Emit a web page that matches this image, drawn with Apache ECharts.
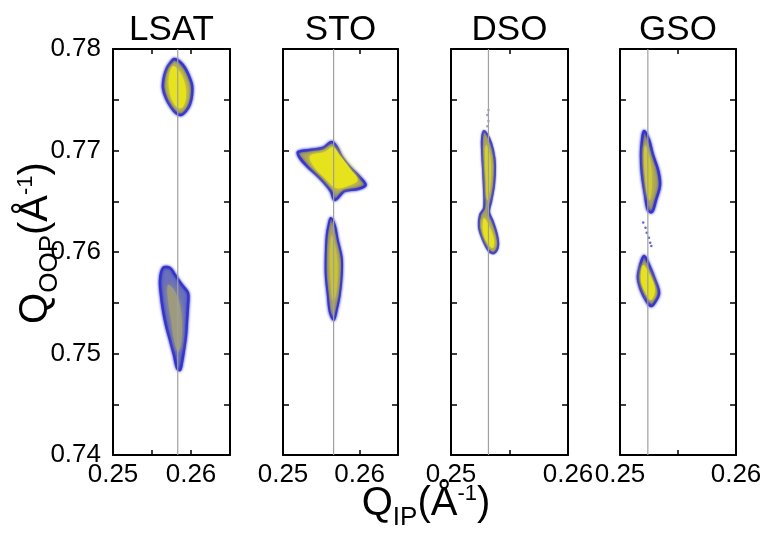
<!DOCTYPE html>
<html>
<head>
<meta charset="utf-8">
<script src="https://cdn.jsdelivr.net/npm/echarts@6/dist/echarts.min.js"></script>
<style>
  html, body { margin: 0; padding: 0; background: #fff; }
  #chart { width: 766px; height: 534px; }
</style>
</head>
<body>
<div id="chart"></div>
<script>
// Substrates, one panel each
const panelNames = ['LSAT', 'STO', 'DSO', 'GSO'];
// In-plane (Q_IP) axis ranges and tick steps
const qipMin = [0.25, 0.25, 0.25, 0.25];
const qipMax = [0.265, 0.265, 0.26, 0.26];
const qipTickStep = [0.005, 0.01, 0.005, 0.005];
const qipLabelValues = [0.25, 0.26];
// Out-of-plane (Q_OOP) axis
const qoopMin = 0.74;
const qoopMax = 0.78;
const qoopTickStep = 0.005;
const qoopLabelValues = [0.74, 0.75, 0.76, 0.77, 0.78];
// Substrate in-plane position (grey reference line)
const substrateQip = [0.2583, 0.2566, 0.2532, 0.2524];

// Intensity contour outlines, [Q_IP, Q_OOP]
const lsatUpperOuter = [[0.25782,0.77901],[0.25859,0.77872],[0.25923,0.77813],[0.25974,0.77734],[0.26013,0.77645],[0.26013,0.77547],[0.25987,0.77458],[0.25936,0.77389],[0.25872,0.77350],[0.25808,0.77369],[0.25744,0.77429],[0.25679,0.77517],[0.25641,0.77616],[0.25654,0.77724],[0.25692,0.77813],[0.25744,0.77872]];
const lsatUpperCore = [[0.25769,0.77833],[0.25859,0.77773],[0.25923,0.77655],[0.25936,0.77527],[0.25897,0.77429],[0.25833,0.77419],[0.25756,0.77498],[0.25718,0.77616],[0.25718,0.77734]];
const lsatLowerOuter = [[0.25641,0.75842],[0.25731,0.75842],[0.25795,0.75773],[0.25885,0.75675],[0.25962,0.75596],[0.25962,0.75478],[0.25949,0.75330],[0.25936,0.75182],[0.25910,0.75034],[0.25885,0.74916],[0.25859,0.74837],[0.25821,0.74857],[0.25782,0.74985],[0.25731,0.75133],[0.25679,0.75281],[0.25641,0.75429],[0.25615,0.75576],[0.25603,0.75724]];
const lsatLowerCore = [[0.25705,0.75675],[0.25782,0.75626],[0.25859,0.75478],[0.25885,0.75281],[0.25872,0.75084],[0.25833,0.75015],[0.25782,0.75133],[0.25744,0.75330],[0.25705,0.75527]];

const stoUpperOuter = [[0.25195,0.76985],[0.25351,0.77005],[0.25519,0.77025],[0.25636,0.77084],[0.25701,0.77034],[0.25766,0.76936],[0.25870,0.76837],[0.26000,0.76739],[0.26078,0.76660],[0.25974,0.76621],[0.25805,0.76601],[0.25675,0.76512],[0.25623,0.76601],[0.25480,0.76729],[0.25312,0.76847],[0.25221,0.76926]];
const stoUpperCore = [[0.25351,0.76946],[0.25545,0.76985],[0.25649,0.77034],[0.25740,0.76956],[0.25870,0.76828],[0.25974,0.76709],[0.25844,0.76650],[0.25688,0.76630],[0.25545,0.76729],[0.25416,0.76828]];
const stoLowerOuter = [[0.25623,0.76335],[0.25675,0.76266],[0.25714,0.76118],[0.25766,0.75941],[0.25766,0.75773],[0.25740,0.75576],[0.25701,0.75429],[0.25662,0.75330],[0.25610,0.75409],[0.25584,0.75576],[0.25558,0.75773],[0.25558,0.75970],[0.25571,0.76167],[0.25597,0.76276]];
const stoLowerCore = [[0.25636,0.76167],[0.25688,0.76020],[0.25714,0.75823],[0.25688,0.75576],[0.25649,0.75527],[0.25623,0.75724],[0.25610,0.75941],[0.25623,0.76118]];

const dsoOuter = [[0.25282,0.77192],[0.25325,0.77123],[0.25359,0.77005],[0.25376,0.76857],[0.25368,0.76660],[0.25342,0.76493],[0.25325,0.76394],[0.25359,0.76296],[0.25393,0.76167],[0.25402,0.76059],[0.25368,0.75990],[0.25325,0.76010],[0.25274,0.76118],[0.25239,0.76246],[0.25248,0.76365],[0.25282,0.76433],[0.25282,0.76611],[0.25274,0.76808],[0.25265,0.77005],[0.25265,0.77123]];
const dsoUpperCore = [[0.25299,0.77054],[0.25333,0.76956],[0.25342,0.76759],[0.25325,0.76562],[0.25308,0.76512],[0.25299,0.76709],[0.25291,0.76906]];
const dsoLowerCore = [[0.25282,0.76335],[0.25333,0.76236],[0.25368,0.76118],[0.25359,0.76039],[0.25316,0.76079],[0.25274,0.76197]];
const dsoTrace = [[0.2532,0.7740],[0.2531,0.7735],[0.2532,0.7729],[0.2531,0.7724]];

const gsoUpperOuter = [[0.25207,0.77192],[0.25250,0.77103],[0.25284,0.76956],[0.25328,0.76808],[0.25345,0.76660],[0.25310,0.76512],[0.25276,0.76394],[0.25241,0.76414],[0.25216,0.76562],[0.25190,0.76759],[0.25181,0.76956],[0.25190,0.77103]];
const gsoUpperCore = [[0.25216,0.77054],[0.25259,0.76906],[0.25276,0.76709],[0.25259,0.76512],[0.25233,0.76562],[0.25216,0.76759],[0.25207,0.76926]];
const gsoLowerOuter = [[0.25207,0.75961],[0.25250,0.75872],[0.25302,0.75724],[0.25336,0.75596],[0.25302,0.75507],[0.25267,0.75468],[0.25224,0.75527],[0.25181,0.75626],[0.25155,0.75744],[0.25172,0.75862]];
const gsoLowerCore = [[0.25198,0.75872],[0.25259,0.75773],[0.25302,0.75626],[0.25267,0.75527],[0.25216,0.75606],[0.25181,0.75724]];
const gsoTrace = [[0.2520,0.7629],[0.2522,0.7624],[0.2523,0.7619],[0.2525,0.7614],[0.2526,0.7609],[0.2527,0.7606]];

// Colour levels: weak edge, medium, strong
const EDGE = '#3535cc';
const MID = '#a9a35a';
const HIGH = '#e6e21c';
const WEAK_FILL = '#6a70ba';
const WEAK_CORE = '#9d9a7e';

const panelLayers = [
  [
    { pts: lsatUpperOuter, fill: MID, stroke: EDGE, lw: 2.5, glow: EDGE, blur: 3 },
    { pts: lsatUpperCore, fill: HIGH, glow: HIGH, blur: 6 },
    { pts: lsatLowerOuter, fill: WEAK_FILL, stroke: EDGE, lw: 2.5, glow: EDGE, blur: 3 },
    { pts: lsatLowerCore, fill: WEAK_CORE, glow: WEAK_CORE, blur: 5 }
  ],
  [
    { pts: stoUpperOuter, fill: MID, stroke: EDGE, lw: 2.5, glow: EDGE, blur: 3 },
    { pts: stoUpperCore, fill: HIGH, glow: HIGH, blur: 6 },
    { pts: stoLowerOuter, fill: MID, stroke: EDGE, lw: 2, glow: EDGE, blur: 3 },
    { pts: stoLowerCore, fill: '#c8c236', glow: '#c8c236', blur: 4 }
  ],
  [
    { pts: dsoOuter, fill: MID, stroke: '#4545c0', lw: 2, glow: '#4545c0', blur: 2 },
    { pts: dsoUpperCore, fill: '#d6d22a', glow: '#d6d22a', blur: 4 },
    { pts: dsoLowerCore, fill: HIGH, glow: HIGH, blur: 4 }
  ],
  [
    { pts: gsoUpperOuter, fill: MID, stroke: EDGE, lw: 2.5, glow: EDGE, blur: 3 },
    { pts: gsoUpperCore, fill: '#cfca34', glow: '#cfca34', blur: 4 },
    { pts: gsoLowerOuter, fill: MID, stroke: EDGE, lw: 2.5, glow: EDGE, blur: 3 },
    { pts: gsoLowerCore, fill: HIGH, glow: HIGH, blur: 5 }
  ]
];
const panelTraces = [[], [], dsoTrace, gsoTrace];

// Panel placement in pixels
const layout = {
  left: [113, 283, 451, 620],
  width: [117, 115, 117, 116],
  top: 49,
  height: 406
};

const FONT = '"Liberation Sans", Arial, sans-serif';
const near = (v, list) => list.some(l => Math.abs(l - v) < 1e-7);

const grid = [], xAxis = [], yAxis = [], series = [];
panelNames.forEach((name, i) => {
  grid.push({ left: layout.left[i], top: layout.top, width: layout.width[i], height: layout.height, containLabel: false });
  const xBase = {
    type: 'value', gridIndex: i, min: qipMin[i], max: qipMax[i], interval: qipTickStep[i],
    axisLine: { show: true, onZero: false, lineStyle: { color: '#000', width: 2 } },
    axisTick: { show: true, inside: true, length: 5, lineStyle: { color: '#000', width: 1.5 } },
    splitLine: { show: false }
  };
  xAxis.push(Object.assign({}, xBase, {
    position: 'bottom',
    axisLabel: {
      show: true, margin: 7, color: '#000', fontSize: 26, fontFamily: FONT,
      formatter: v => near(v, qipLabelValues) ? v.toFixed(2) : ''
    }
  }));
  xAxis.push(Object.assign({}, xBase, { position: 'top', axisLabel: { show: false } }));

  const yBase = {
    type: 'value', gridIndex: i, min: qoopMin, max: qoopMax, interval: qoopTickStep,
    axisLine: { show: true, onZero: false, lineStyle: { color: '#000', width: 2 } },
    axisTick: { show: true, inside: true, length: 6, lineStyle: { color: '#000', width: 1.5 } },
    splitLine: { show: false }
  };
  yAxis.push(Object.assign({}, yBase, {
    position: 'left',
    axisLabel: {
      show: i === 0, margin: 12, color: '#000', fontSize: 26, fontFamily: FONT,
      formatter: v => near(v, qoopLabelValues) ? v.toFixed(2) : ''
    }
  }));
  yAxis.push(Object.assign({}, yBase, { position: 'right', axisLabel: { show: false } }));

  const layers = panelLayers[i];
  series.push({
    type: 'custom',
    name: name,
    xAxisIndex: 2 * i,
    yAxisIndex: 2 * i,
    data: layers.map(l => l.pts[0]),
    encode: { x: 0, y: 1 },
    clip: true,
    silent: true,
    z: 2,
    renderItem: (params, api) => {
      const l = layers[params.dataIndex];
      return {
        type: 'polygon',
        z2: params.dataIndex,
        shape: { points: l.pts.map(p => api.coord(p)), smooth: 0.35 },
        style: {
          fill: l.fill,
          stroke: l.stroke || null,
          lineWidth: l.lw || 0,
          lineJoin: 'round',
          shadowBlur: l.blur || 0,
          shadowColor: l.glow || 'rgba(0,0,0,0)'
        }
      };
    }
  });
  if (panelTraces[i].length) {
    series.push({
      type: 'scatter', xAxisIndex: 2 * i, yAxisIndex: 2 * i,
      data: panelTraces[i], symbolSize: 2.5, z: 2, silent: true,
      itemStyle: { color: i === 2 ? '#8a8ab0' : '#4040cc' }
    });
  }
  series.push({
    type: 'line', xAxisIndex: 2 * i, yAxisIndex: 2 * i,
    data: [[substrateQip[i], qoopMin], [substrateQip[i], qoopMax]],
    symbol: 'none', silent: true, z: 3,
    lineStyle: { color: '#a0a0a0', width: 1.2 }
  });
});

// Axis titles made of pieces with sub/superscripts
const measureCtx = document.createElement('canvas').getContext('2d');
function composedTitle(parts, cx, cy, rotation) {
  let total = 0;
  const widths = parts.map(p => {
    measureCtx.font = p.size + 'px ' + FONT;
    const w = measureCtx.measureText(p.t).width;
    total += w;
    return w;
  });
  let x = -total / 2;
  const children = parts.map((p, k) => {
    const el = {
      type: 'text',
      x: x,
      y: p.dy - 0.35 * p.size,
      style: { text: p.t, font: p.size + 'px ' + FONT, fill: '#000', textAlign: 'left', textVerticalAlign: 'middle' }
    };
    x += widths[k];
    return el;
  });
  return { type: 'group', x: cx, y: cy, rotation: rotation, children: children };
}

const graphic = [];
panelNames.forEach((name, i) => {
  graphic.push({
    type: 'text',
    x: layout.left[i] + layout.width[i] / 2,
    y: 30,
    style: { text: name, font: '35px ' + FONT, fill: '#000', textAlign: 'center', textVerticalAlign: 'middle' }
  });
});
graphic.push(composedTitle([
  { t: 'Q', size: 40, dy: 0 },
  { t: 'IP', size: 26, dy: 9 },
  { t: '(Å', size: 40, dy: 0 },
  { t: '-1', size: 22, dy: -16 },
  { t: ')', size: 40, dy: 0 }
], 426, 518, 0));
graphic.push(composedTitle([
  { t: 'Q', size: 40, dy: 0 },
  { t: 'OOP', size: 26, dy: 9 },
  { t: '(Å', size: 40, dy: 0 },
  { t: '-1', size: 22, dy: -16 },
  { t: ')', size: 40, dy: 0 }
], 50, 243, Math.PI / 2));

const chart = echarts.init(document.getElementById('chart'), null, { renderer: 'canvas' });
chart.setOption({
  animation: false,
  backgroundColor: '#fff',
  grid: grid,
  xAxis: xAxis,
  yAxis: yAxis,
  series: series,
  graphic: graphic
});
</script>
</body>
</html>
